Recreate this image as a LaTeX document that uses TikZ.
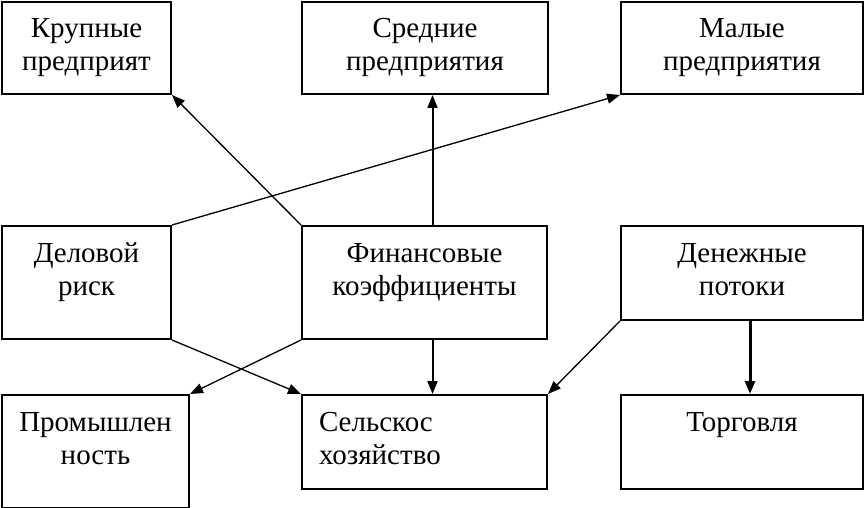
\documentclass[tikz,border=0pt]{standalone}
\usepackage{fontspec}
\setmainfont{Liberation Serif}
\usepackage{tikz}
\usetikzlibrary{arrows.meta}

\tikzset{
  blok/.style={draw, line width=2pt, inner sep=0pt, anchor=north west,
    align=center, text height=36pt, font=\fontsize{29}{33}\selectfont},
  strel/.style={-{Triangle[length=13pt,width=10pt]}, line width=1.3pt}
}

\begin{document}
\begin{tikzpicture}[x=1pt,y=1pt]
  \useasboundingbox (0,0) rectangle (864,-508);
  % top row
  \node[blok, text width=169pt, text depth=56pt] (krup) at (1,-1) {Крупные\\предприят};
  \node[blok, text width=246pt, text depth=56pt] (sred) at (301,-1) {Средние\\предприятия};
  \node[blok, text width=242pt, text depth=56pt] (mal) at (620,-1) {Малые\\предприятия};
  % middle row
  \node[blok, text width=169pt, text depth=77pt] (delo) at (1,-225) {Деловой\\риск};
  \node[blok, text width=245pt, text depth=77pt] (fin) at (301,-225) {Финансовые\\коэффициенты};
  \node[blok, text width=242pt, text depth=58pt] (den) at (620,-225) {Денежные\\потоки};
  % bottom row
  \node[blok, text width=187pt, text depth=77pt] (prom) at (1,-394) {Промышлен\\ность};
  \node[blok, text width=245pt, text depth=58pt, align=left] (selo) at (301,-394)
    {\hspace*{17pt}Сельскос\\\hspace*{17pt}хозяйство};
  \node[blok, text width=242pt, text depth=58pt] (torg) at (620,-394) {Торговля};

  \draw[strel] (fin.north west) -- (krup.south east);
  \draw[strel, line width=2pt] ([xshift=8pt]fin.north) -- ([xshift=8pt]fin.north |- sred.south);
  \draw[strel] (delo.north east) -- (mal.south west);
  \draw[strel] (delo.south east) -- (selo.north west);
  \draw[strel] (fin.south west) -- (prom.north east);
  \draw[strel, line width=2pt] ([xshift=8pt]fin.south) -- ([xshift=8pt]fin.south |- selo.north);
  \draw[strel] (den.south west) -- (selo.north east);
  \draw[strel, line width=3pt] ([xshift=8pt]den.south) -- ([xshift=8pt]den.south |- torg.north);
\end{tikzpicture}
\end{document}
